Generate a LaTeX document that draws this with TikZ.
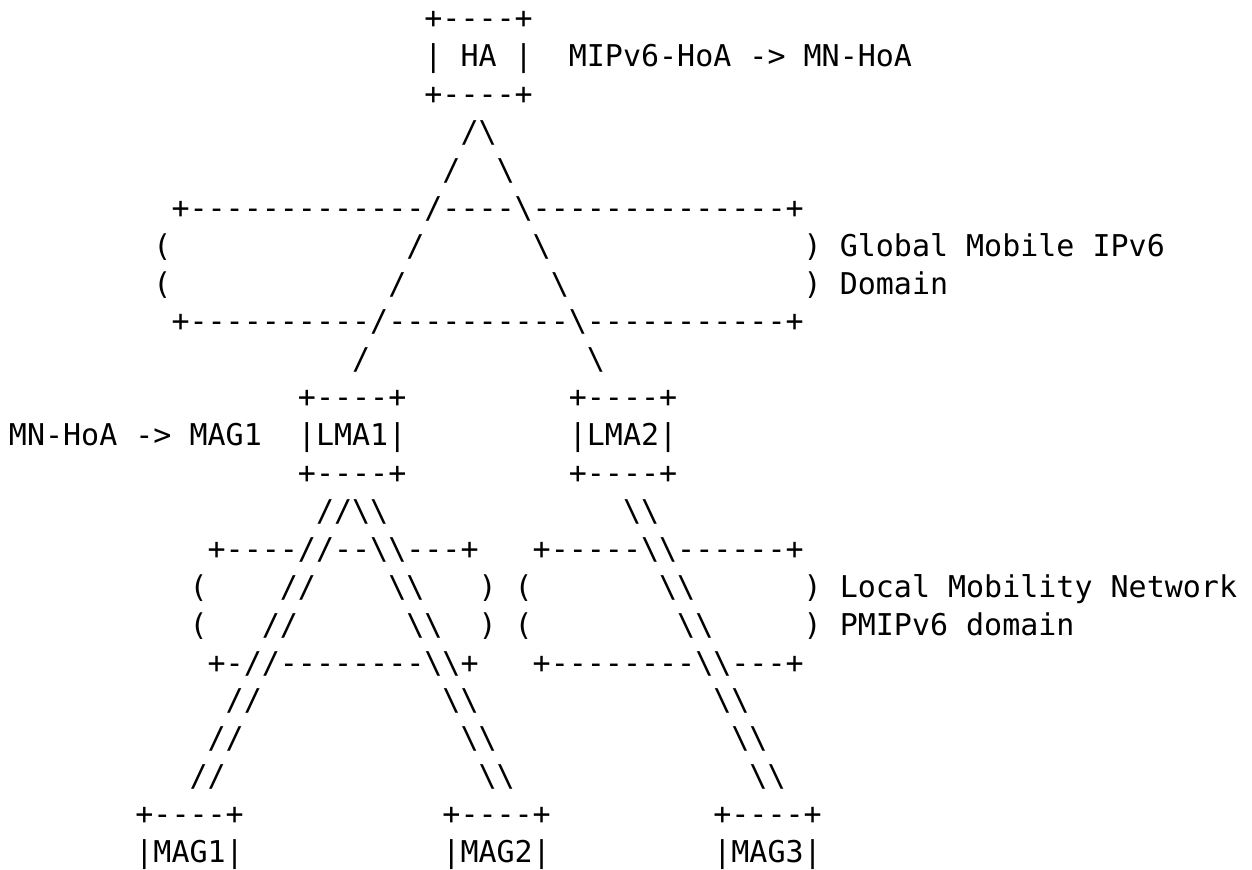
\documentclass[tikz,border=0pt]{standalone}
\usepackage{fontspec}
\setmonofont{DejaVu Sans Mono}
\newcommand{\bs}{\textbackslash}
\newcommand{\asciifont}{\ttfamily\fontsize{30bp}{36bp}\selectfont}
\tikzset{ascii/.style={anchor=base west, inner sep=0pt, outer sep=0pt, font=\asciifont}}

\begin{document}
\begin{tikzpicture}[x=18.06bp, y=-37.9bp]
	\fill[white] (-0.4983,0.2427) rectangle (68.826,23.172);
	\useasboundingbox (-0.4983,0.2427) rectangle (68.826,23.172);
	\node[ascii] (hatop) at (23,1) {+----+};
	\node[ascii] (ha) at (23,2) {| HA |};
	\node[ascii] (hamap) at (31,2) {MIPv6-HoA -> MN-HoA};
	\node[ascii] (habot) at (23,3) {+----+};
	\node[ascii] (hapeak) at (25,4) {/\bs};
	\node[ascii] (hal1) at (24,5) {/};
	\node[ascii] (har1) at (27,5) {\bs};
	\node[ascii] (gtop) at (9,6) {+-------------/----\bs--------------+};
	\node[ascii] (gl1) at (8,7) {(};
	\node[ascii] (gs1) at (22,7) {/};
	\node[ascii] (gb1) at (29,7) {\bs};
	\node[ascii] (glabel1) at (44,7) {) Global Mobile IPv6};
	\node[ascii] (gl2) at (8,8) {(};
	\node[ascii] (gs2) at (21,8) {/};
	\node[ascii] (gb2) at (30,8) {\bs};
	\node[ascii] (glabel2) at (44,8) {) Domain};
	\node[ascii] (gbot) at (9,9) {+----------/----------\bs-----------+};
	\node[ascii] (gs3) at (19,10) {/};
	\node[ascii] (gb3) at (32,10) {\bs};
	\node[ascii] (lmaatop) at (16,11) {+----+};
	\node[ascii] (lmabtop) at (31,11) {+----+};
	\node[ascii] (lmamap) at (0,12) {MN-HoA -> MAG1};
	\node[ascii] (lmaa) at (16,12) {|LMA1|};
	\node[ascii] (lmab) at (31,12) {|LMA2|};
	\node[ascii] (lmaabot) at (16,13) {+----+};
	\node[ascii] (lmabbot) at (31,13) {+----+};
	\node[ascii] (lpeak) at (17,14) {//\bs\bs};
	\node[ascii] (rl1) at (34,14) {\bs\bs};
	\node[ascii] (ltop) at (11,15) {+----//--\bs\bs---+};
	\node[ascii] (rtop) at (29,15) {+-----\bs\bs------+};
	\node[ascii] (ll1) at (10,16) {(};
	\node[ascii] (ls1) at (15,16) {//};
	\node[ascii] (lb1) at (21,16) {\bs\bs};
	\node[ascii] (lr1) at (26,16) {) (};
	\node[ascii] (rl2) at (36,16) {\bs\bs};
	\node[ascii] (llabel1) at (44,16) {) Local Mobility Network};
	\node[ascii] (ll2) at (10,17) {(};
	\node[ascii] (ls2) at (14,17) {//};
	\node[ascii] (lb2) at (22,17) {\bs\bs};
	\node[ascii] (lr2) at (26,17) {) (};
	\node[ascii] (rl3) at (37,17) {\bs\bs};
	\node[ascii] (llabel2) at (44,17) {) PMIPv6 domain};
	\node[ascii] (lbot) at (11,18) {+-//--------\bs\bs+};
	\node[ascii] (rbot) at (29,18) {+--------\bs\bs---+};
	\node[ascii] (ls3) at (12,19) {//};
	\node[ascii] (lb3) at (24,19) {\bs\bs};
	\node[ascii] (rl4) at (39,19) {\bs\bs};
	\node[ascii] (ls4) at (11,20) {//};
	\node[ascii] (lb4) at (25,20) {\bs\bs};
	\node[ascii] (rl5) at (40,20) {\bs\bs};
	\node[ascii] (ls5) at (10,21) {//};
	\node[ascii] (lb5) at (26,21) {\bs\bs};
	\node[ascii] (rl6) at (41,21) {\bs\bs};
	\node[ascii] (magatop) at (7,22) {+----+};
	\node[ascii] (magbtop) at (24,22) {+----+};
	\node[ascii] (magctop) at (39,22) {+----+};
	\node[ascii] (maga) at (7,23) {|MAG1|};
	\node[ascii] (magb) at (24,23) {|MAG2|};
	\node[ascii] (magc) at (39,23) {|MAG3|};
\end{tikzpicture}
\end{document}
